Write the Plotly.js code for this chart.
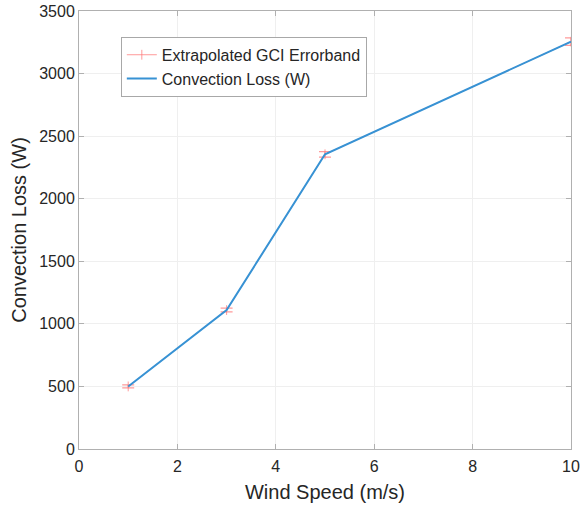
<!DOCTYPE html>
<html><head><meta charset="utf-8">
<script src="https://cdn.plot.ly/plotly-3.0.1.min.js"></script>
<style>html,body{margin:0;padding:0;background:#fff}#chart{width:582px;height:506px}</style>
</head><body><div id="chart"></div>
<script>
const windSpeed = [1, 3, 5, 10];
const convectionLoss = [500, 1110, 2355, 3255];
const gciError = [12, 15, 22, 30];

const font = 'Liberation Sans, Arial, Helvetica, sans-serif';
const errColor = 'rgba(255,120,120,0.75)';
const traces = [
  {
    x: windSpeed, y: convectionLoss, name: 'Extrapolated GCI Errorband',
    type: 'scatter', mode: 'lines+markers',
    line: {color: errColor, width: 1},
    marker: {symbol: 'line-ns-open', size: 7, line: {color: errColor, width: 1}},
    error_y: {type: 'data', array: gciError, visible: true, color: errColor, thickness: 1.2, width: 6}
  },
  {
    x: windSpeed, y: convectionLoss, name: 'Convection Loss (W)',
    type: 'scatter', mode: 'lines',
    line: {color: '#3792d4', width: 2}
  }
];
const axisCommon = {
  showline: true, linecolor: '#b0b0b0', linewidth: 1, mirror: 'ticks',
  ticks: 'inside', ticklen: 5, tickcolor: '#b0b0b0',
  showgrid: true, gridcolor: '#efefef', gridwidth: 1, zeroline: false,
  tickfont: {family: font, size: 16, color: '#262626'}
};
const layout = {
  width: 582, height: 506,
  margin: {l: 79, r: 11, t: 11, b: 57},
  paper_bgcolor: '#fff', plot_bgcolor: '#fff',
  showlegend: true,
  legend: {x: 0.085, y: 0.941, xanchor: 'left', yanchor: 'top',
    bgcolor: '#fff', bordercolor: '#a8a8a8', borderwidth: 1,
    font: {family: font, size: 16, color: '#262626'}, tracegroupgap: 0, itemwidth: 30},
  xaxis: Object.assign({}, axisCommon, {range: [0, 10], dtick: 2, ticklabelstandoff: 3,
    title: {text: 'Wind Speed (m/s)', font: {family: font, size: 20, color: '#262626'}, standoff: 10}}),
  yaxis: Object.assign({}, axisCommon, {range: [0, 3500], dtick: 500,
    title: {text: 'Convection Loss (W)', font: {family: font, size: 20, color: '#262626'}, standoff: 7}})
};
Plotly.newPlot('chart', traces, layout, {displayModeBar: false, staticPlot: true});
</script></body></html>
